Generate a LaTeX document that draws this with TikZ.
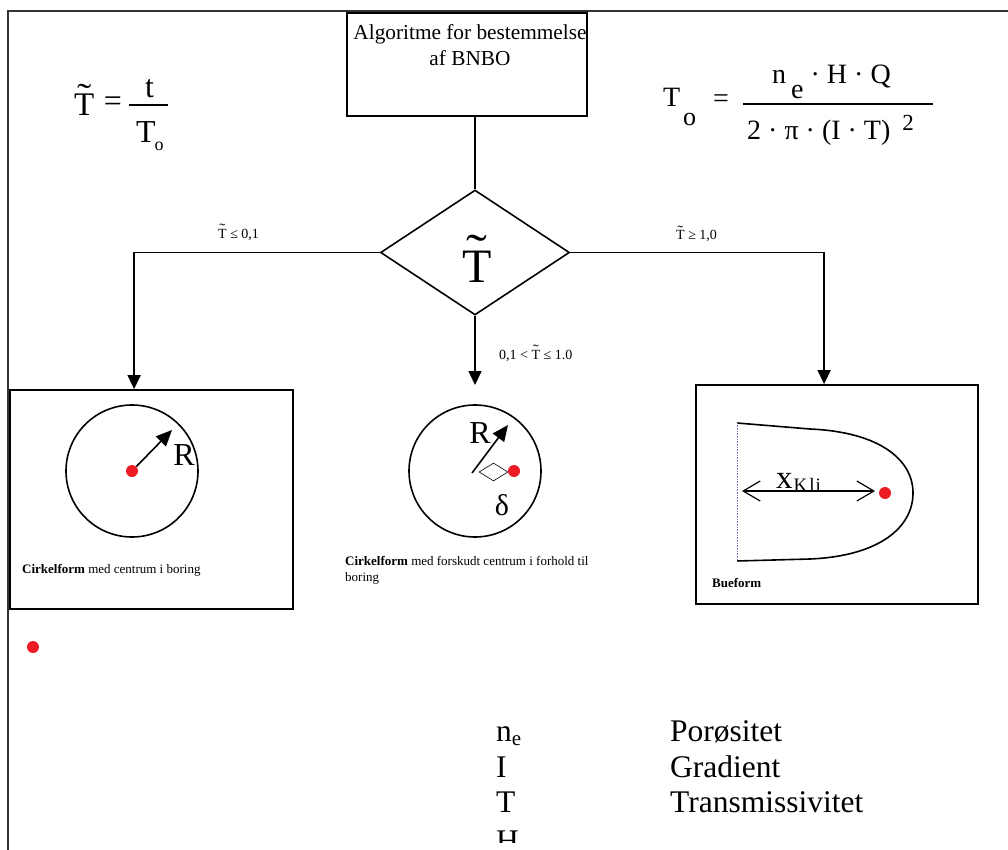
\documentclass[tikz,border=0pt]{standalone}
\usepackage{fontspec}
\usepackage{graphicx}
\setmainfont{Liberation Serif}
\usetikzlibrary{shapes.geometric,arrows.meta,calc}
\definecolor{dotred}{RGB}{237,28,36}
\definecolor{dotblue}{RGB}{120,120,200}
\newcommand{\fsz}[1]{\fontsize{#1}{#1}\selectfont}
\newcommand{\TT}{\setbox0\hbox{T}\hbox to \wd0{\hss\raisebox{0.3em}{\scalebox{1.3}[1]{\char"02DC}}\hss}\kern-\wd0 T}
\begin{document}
\begin{tikzpicture}[x=1pt,y=-1pt,
  frame/.style={draw=black!80, line width=1.6pt},
  boxstyle/.style={draw, line width=1.8pt, inner sep=0pt},
  conn/.style={line width=1.6pt},
  arr/.style={-{Triangle[length=14pt,width=13pt]}, line width=1.6pt},
  rarr/.style={-{Triangle[length=16pt,width=14pt]}, line width=1.6pt},
  circ/.style={draw, circle, minimum size=132pt, inner sep=0pt, line width=1.6pt},
  reddot/.style={circle, fill=dotred, minimum size=12pt, inner sep=0pt},
  lbl/.style={font=\fsz{14}, inner sep=0pt, anchor=base west},
  captxt/.style={font=\fsz{13}, inner sep=0pt, anchor=west},
  formula/.style={inner sep=0pt, anchor=base west},
  legend/.style={font=\fsz{31.5}, inner sep=0pt, anchor=base west}
]
\useasboundingbox (0,0) rectangle (1008,850);
% frame
\coordinate (f0) at (8,850); \coordinate (f1) at (8,11); \coordinate (f2) at (1008,11);
\draw[frame] (f0) -- (f1) -- (f2);

% top box
\node[boxstyle, minimum width=240pt, minimum height=103pt] (box) at (467,64.5) {};
\node[font=\fontsize{21.3}{26}\selectfont, align=center, anchor=north, inner sep=0pt] (boxtxt) at (470,24) {Algoritme for bestemmelse\\af BNBO};

% diamond
\node[draw, diamond, minimum width=189pt, minimum height=125pt, inner sep=0pt, line width=1.6pt] (dia) at (475,252.5) {};
\node[font=\fsz{48}, inner sep=0pt, anchor=base] (diat) at (477,282) {\TT};
\draw[conn] (dia.north |- box.south) -- (dia.north);

% boxes
\node[boxstyle, minimum width=283pt, minimum height=219pt] (lbox) at (151.5,499.5) {};
\node[boxstyle, minimum width=282pt, minimum height=219pt] (rbox) at (837,494.5) {};

% branches
\draw[arr] (dia.west) -| ([xshift=125pt]lbox.north west);
\draw[arr] (dia.east) -| ([xshift=129pt]rbox.north west);
\coordinate (mend) at (475,385);
\draw[arr] (dia.south) -- (mend);

\node[lbl] (l1) at (218,238) {\TT\ ≤ 0,1};
\node[lbl] (l2) at (676,240) {\TT\ ≥ 1,0};
\node[lbl] (l3) at (499,359) {0,1 < \TT\ ≤ 1.0};

% left circle
\node[circ] (c1) at (132,471) {};
\node[reddot] (d1) at (132,471) {};
\coordinate (r1) at (172,430);
\draw[rarr] (d1) -- (r1);
\node[font=\fsz{32}, inner sep=0pt] (R1) at (184,455) {R};
\node[captxt] (cap1) at (22,570) {\textbf{Cirkelform} med centrum i boring};

% middle circle
\node[circ] (c2) at (475,471) {};
\coordinate (t2) at (472,473); \coordinate (h2) at (508,425);
\draw[rarr] (t2) -- (h2);
\node[font=\fsz{32}, inner sep=0pt] (R2) at (480,433) {R};
\node[draw, diamond, minimum width=29pt, minimum height=18pt, inner sep=0pt, line width=0.6pt] (sd) at (493.5,472) {};
\node[reddot] (d2) at (514,471) {};
\node[font=\fsz{30}, inner sep=0pt] (delta) at (502,505) {δ};
\node[font=\fontsize{13}{16}\selectfont, inner sep=0pt, anchor=north west, align=left] (cap2) at (345,556) {\textbf{Cirkelform} med forskudt centrum i forhold til\\boring};

% bow shape
\coordinate (bt) at (737,423); \coordinate (bb) at (737,561);
\draw[line width=1.6pt] (bt) -- (810,429) .. controls (880,432) and (913,460) .. (913,493) .. controls (913,527) and (880,556) .. (810,559) -- (bb);
\draw[dotblue, densely dotted, line width=0.6pt] (bt) -- (bb);
\coordinate (xa) at (742,491); \coordinate (xb) at (875,491);
\draw[{Straight Barb[length=17pt,width=20pt]}-{Straight Barb[length=17pt,width=20pt]}, line width=1.2pt] (xa) -- (xb);
\node[reddot] (d3) at (885,493) {};
\node[formula, font=\fsz{33}] (xk) at (776,488) {x\kern1pt\raisebox{-3pt}{\fsz{19}K\kern2pt l\kern1pt i}};
\node[captxt, font=\fsz{13}\bfseries] (cap3) at (712,583) {Bueform};

% lone red dot
\node[reddot] (d4) at (33,647) {};

% left formula
\node[formula, font=\fsz{33}] (Tt) at (74,116) {\TT};
\node[font=\fsz{32}, inner sep=0pt] (eq1) at (113,104) {=};
\node[formula, font=\fsz{32}] (tn) at (145,98) {t};
\node[formula, font=\fsz{32}] (td) at (136,143) {T\kern-1pt\raisebox{-8pt}{\fsz{18}o}};
\draw[line width=1.2pt] (129,105) -- (168,105);

% right formula
\node[formula, font=\fsz{28}] (To) at (663,107) {T};
\node[formula, font=\fsz{26}] (Tos) at (683,126) {o};
\node[font=\fsz{28}, inner sep=0pt] (eq2) at (721,101) {=};
\node[formula, font=\fsz{28}] (num) at (772,84) {n\kern5pt\raisebox{-15pt}{e} · H · Q};
\node[formula, font=\fsz{28}] (den) at (747,140) {2 · π · (I · T)\kern12pt\raisebox{9pt}{\fsz{23}2}};
\draw[line width=1.2pt] (743,104) -- (933,104);

% legend
\node[legend] (ln) at (496,741) {n\raisebox{-4pt}{\fsz{21}e}};
\node[legend] (lI) at (496,777) {I};
\node[legend] (lT) at (496,812) {T};
\begin{scope}
\clip (0,0) rectangle (1008,842);
\node[legend] (lH) at (496,851) {H};
\end{scope}
\node[legend] (p1) at (670,741) {Porøsitet};
\node[legend] (p2) at (670,777) {Gradient};
\node[legend] (p3) at (670,812) {Transmissivitet};
\end{tikzpicture}
\end{document}
